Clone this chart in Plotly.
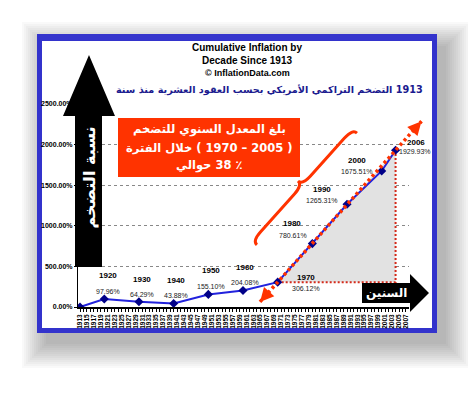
import re
import plotly.graph_objects as go

# ---------------- data ----------------
decade_years = [1913, 1920, 1930, 1940, 1950, 1960, 1970, 1980, 1990, 2000, 2004]
cumulative_inflation = [0.0, 97.96, 64.29, 43.88, 155.10, 204.08, 306.12, 780.61, 1265.31, 1675.51, 1929.93]
point_year_labels = ["", "1920", "1930", "1940", "1950", "1960", "1970", "1980", "1990", "2000", "2006"]
point_value_labels = ["", "97.96%", "64.29%", "43.88%", "155.10%", "204.08%", "306.12%",
                      "780.61%", "1265.31%", "1675.51%", "1929.93%"]
y_tick_values = [0, 500, 1000, 1500, 2000, 2500]
y_tick_labels = ["0.00%", "500.00%", "1000.00%", "1500.00%", "2000.00%", "2500.00%"]
x_tick_years = list(range(1913, 2008, 2))
x_tick_labels = [str(v) for v in x_tick_years]
period_start_index = 6      # 1970
period_end_index = 10       # last point

title_lines = ["Cumulative Inflation by", "Decade Since 1913", "© InflationData.com"]
arabic_title = "التضخم التراكمي الأمريكي بحسب العقود العشرية منذ سنة 1913"
box_lines = ["بلغ المعدل السنوي للتضخم", "خلال الفترة ( 1970 – 2005 )", "حوالي 38 ٪"]
y_arrow_text = "نسبة التضخم"
x_arrow_text = "السنين"

# ---------------- layout geometry (reference pixels) ----------------
PAGE_OFF = 8                     # default body margin of the page
W, H = 476 - PAGE_OFF, 393 - PAGE_OFF
PL, PR, PT, PB = 78, 409, 104, 307
X_RANGE = [1912.42, 2007.87]
Y_RANGE = [0, 2500]
PX_PER_X = (PR - PL) / (X_RANGE[1] - X_RANGE[0])
PX_PER_Y = (PB - PT) / (Y_RANGE[1] - Y_RANGE[0])

LATIN = "Liberation Sans, Arial, sans-serif"
ARABIC = "DejaVu Sans, sans-serif"
RED = "#ff3300"
LRM = "\u200e"
ARABIC_CHARS = re.compile("[\u0600-\u0669\u066b-\u06ff]")


def xp(px):
    return (px - PL) / (PR - PL)


def yp(py):
    return (PB - py) / (PB - PT)


def dx_paper(x):
    return (x - X_RANGE[0]) / (X_RANGE[1] - X_RANGE[0])


def dy_paper(y):
    return (y - Y_RANGE[0]) / (Y_RANGE[1] - Y_RANGE[0])


def mixed(s):
    # Arabic run right-to-left, then the trailing number group kept to its right (as in the picture)
    toks = s.split(" ")
    for i, t in enumerate(toks):
        if not ARABIC_CHARS.search(t):
            return " ".join(toks[:i]) + LRM + " " + " ".join(toks[i:])
    return s


def pix_path(points, close=True):
    s = "M " + " L ".join(f"{xp(a):.5f},{yp(b):.5f}" for a, b in points)
    return s + (" Z" if close else "")


def paper_text(text, px, py, font, **kw):
    return dict(text=text, x=xp(px), y=yp(py), xref="paper", yref="paper", showarrow=False,
                xanchor="center", yanchor="middle", font=font, **kw)


shapes = []
# soft drop shadow
for i in range(13):
    e = 2 * i
    shapes.append(dict(type="rect", xref="paper", yref="paper",
                       x0=xp(46 - e), x1=xp(446 + e), y0=yp(344 + e), y1=yp(46 - e),
                       fillcolor="rgba(0,0,0,0.022)", line_width=0, layer="below"))
# blue frame
shapes.append(dict(type="rect", xref="paper", yref="paper", x0=xp(37), x1=xp(437),
                   y0=yp(333), y1=yp(34), fillcolor="#3333cc", line_width=0, layer="below"))
shapes.append(dict(type="rect", xref="paper", yref="paper", x0=xp(42), x1=xp(432),
                   y0=yp(328), y1=yp(41), fillcolor="white", line_width=0, layer="below"))

# red dotted trend arrow through the 1970 and last points (extended)
xa, ya = decade_years[period_start_index], cumulative_inflation[period_start_index]
xb, yb = decade_years[period_end_index], cumulative_inflation[period_end_index]
t0, t1 = -0.15, 1.22
sx, sy = xa + t0 * (xb - xa), ya + t0 * (yb - ya)
ex, ey = xa + t1 * (xb - xa), ya + t1 * (yb - ya)
shapes.append(dict(type="line", xref="paper", yref="paper",
                   x0=dx_paper(sx), y0=dy_paper(sy), x1=dx_paper(ex), y1=dy_paper(ey),
                   line=dict(color=RED, width=3.5, dash="3px,3px"), layer="above"))

# red text box
shapes.append(dict(type="rect", xref="paper", yref="paper", x0=xp(118), x1=xp(300),
                   y0=yp(177), y1=yp(118), fillcolor=RED, line_width=0, layer="above"))

# red brace
tx, ty = 0.667, -0.746
nx, ny = -0.746, -0.667
cusp = (298, 181)
hb, Lb = 12, 75
B0 = (cusp[0] - hb * nx, cusp[1] - hb * ny)


def P(u, v):
    a, b = B0[0] + u * tx + v * nx, B0[1] + u * ty + v * ny
    return f"{xp(a):.5f},{yp(b):.5f}"


brace = (f"M {P(-Lb, 0)} Q {P(-Lb, hb/2)} {P(-Lb+12, hb/2)} L {P(-12, hb/2)} "
         f"Q {P(0, hb/2)} {P(0, hb)} Q {P(0, hb/2)} {P(12, hb/2)} "
         f"L {P(Lb-12, hb/2)} Q {P(Lb, hb/2)} {P(Lb, 0)}")
shapes.append(dict(type="path", xref="paper", yref="paper", path=brace,
                   line=dict(color=RED, width=3), layer="above"))

# black arrows
shapes.append(dict(type="path", xref="paper", yref="paper",
                   path=pix_path([(75, 267), (75, 116), (63, 116), (89, 55), (115, 116), (102, 116), (102, 267)]),
                   fillcolor="black", line_width=0, layer="above"))
shapes.append(dict(type="path", xref="paper", yref="paper",
                   path=pix_path([(362, 283), (410, 283), (410, 274), (429, 293), (410, 312), (410, 303), (362, 303)]),
                   fillcolor="black", line_width=0, layer="above"))

annotations = []
# titles
for txt, py, sz in zip(title_lines, [47, 60, 73], [10, 10, 9]):
    annotations.append(paper_text(txt, 247, py, dict(family=LATIN, size=sz, color="black", weight="bold")))
annotations.append(paper_text(mixed(arabic_title), 269, 90,
                              dict(family=ARABIC, size=9.7, color="#1b1b8f", weight="bold")))
for txt, py in zip(box_lines, [130, 148, 165]):
    annotations.append(paper_text(mixed(txt), 209, py,
                                  dict(family=ARABIC, size=11.5, color="white", weight="bold")))
annotations.append(paper_text(y_arrow_text, 88.5, 178,
                              dict(family=ARABIC, size=16, color="white", weight="bold"), textangle=-90))
annotations.append(paper_text(x_arrow_text, 386, 293,
                              dict(family=ARABIC, size=12, color="white", weight="bold")))

# arrowheads of the red trend arrow
ux, uy = (xb - xa) * PX_PER_X, -(yb - ya) * PX_PER_Y
norm = (ux ** 2 + uy ** 2) ** 0.5
ux, uy = ux / norm, uy / norm
for (hx, hy, sgn) in [(ex, ey, 1), (sx, sy, -1)]:
    annotations.append(dict(text="", x=dx_paper(hx), y=dy_paper(hy), xref="paper", yref="paper",
                            showarrow=True, arrowhead=2, arrowsize=1.1, arrowwidth=2.5, arrowcolor=RED,
                            ax=-sgn * ux * 10, ay=-sgn * uy * 10, standoff=0))

# data labels (pixel offsets from each point: year label, value label)
year_offsets = [(0, 0), (4, 24), (3, 22), (2, 23), (3, 24), (2, 23), (28, 5), (-20, 20), (-25, 15), (-25, 10), (20, 8)]
value_offsets = [(0, 0), (4, 8), (3, 7), (2, 8), (3, 8), (2, 8), (28, -6), (-19, 8), (-25, 4), (-25, -1), (19, -1)]
for i, (xv, yv) in enumerate(zip(decade_years, cumulative_inflation)):
    if not point_year_labels[i]:
        continue
    annotations.append(dict(text=point_year_labels[i], x=xv, y=yv, xref="x", yref="y", showarrow=False,
                            xanchor="center", yanchor="middle",
                            xshift=year_offsets[i][0], yshift=year_offsets[i][1],
                            font=dict(family=LATIN, size=8, color="black", weight="bold")))
    annotations.append(dict(text=point_value_labels[i], x=xv, y=yv, xref="x", yref="y", showarrow=False,
                            xanchor="center", yanchor="middle",
                            xshift=value_offsets[i][0], yshift=value_offsets[i][1],
                            font=dict(family=LATIN, size=7, color="#222222")))

fig = go.Figure()
# shaded triangle of the 1970-2005 period
tri_x = [xa, xb, xb, xa]
tri_y = [ya, yb, ya, ya]
fig.add_trace(go.Scatter(x=tri_x, y=tri_y, fill="toself", fillcolor="#e2e2e2", mode="lines",
                         line=dict(width=0), hoverinfo="skip", showlegend=False))
fig.add_trace(go.Scatter(x=[xa, xb, xb], y=[ya, ya, yb], mode="lines",
                         line=dict(color="#d42a1a", width=2, dash="2px,2px"), hoverinfo="skip", showlegend=False))
fig.add_trace(go.Scatter(x=decade_years, y=cumulative_inflation, mode="lines+markers",
                         line=dict(color="#2222dd", width=2),
                         marker=dict(symbol="diamond", size=7, color="#000088"), showlegend=False))

fig.update_layout(
    width=W, height=H, autosize=False,
    margin=dict(l=PL - PAGE_OFF, r=W - (PR - PAGE_OFF), t=PT - PAGE_OFF, b=H - (PB - PAGE_OFF), pad=0),
    paper_bgcolor="white", plot_bgcolor="rgba(0,0,0,0)",
    shapes=shapes, annotations=annotations, showlegend=False,
    xaxis=dict(range=X_RANGE, tickmode="array", tickvals=x_tick_years, ticktext=x_tick_labels,
               tickangle=-90, tickfont=dict(family=LATIN, size=6.5, color="black", weight="bold"),
               showline=True, linecolor="black", linewidth=1.5, ticks="outside", ticklen=3,
               tickcolor="black", showgrid=False, zeroline=False,
               minor=dict(tickmode="linear", tick0=1913, dtick=1, ticks="outside", ticklen=3, tickcolor="black")),
    yaxis=dict(range=Y_RANGE, tickmode="array", tickvals=y_tick_values, ticktext=y_tick_labels,
               tickfont=dict(family=LATIN, size=7, color="black", weight="bold"),
               showline=True, linecolor="black", linewidth=1, ticks="outside", ticklen=3,
               tickcolor="black", showgrid=True, gridcolor="#888888", griddash="dot", gridwidth=1,
               zeroline=False),
)

fig.write_html("out.html")
